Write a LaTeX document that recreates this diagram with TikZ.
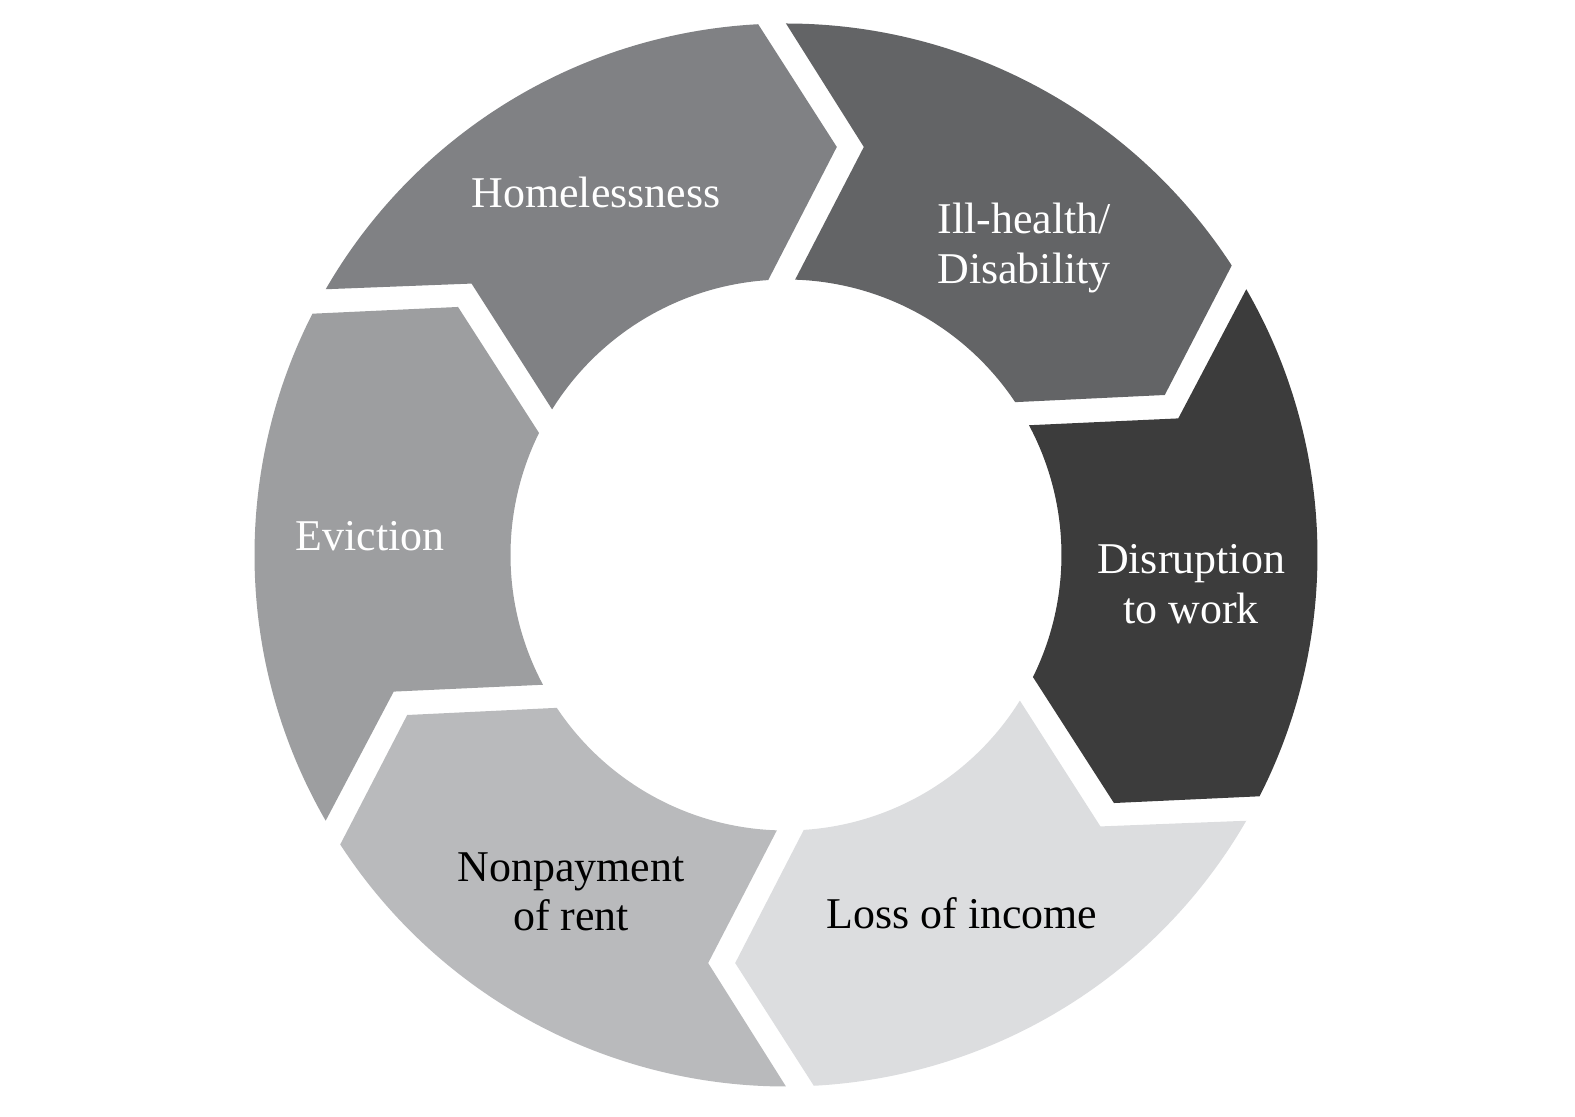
\documentclass[tikz,border=0pt]{standalone}
\usepackage{fontspec}
\setmainfont{Liberation Serif}
\usepackage{tikz}
\definecolor{homegray}{RGB}{128,129,132}
\definecolor{illgray}{RGB}{99,100,102}
\definecolor{disgray}{RGB}{60,60,60}
\definecolor{lossgray}{RGB}{220,221,223}
\definecolor{rentgray}{RGB}{185,186,188}
\definecolor{evictgray}{RGB}{157,158,160}
\tikzstyle{cycletext} = [font=\fontsize{12.5}{14.1}\selectfont, align=center, inner sep=0pt]

\begin{document}
\begin{tikzpicture}
	\useasboundingbox (-7.86,-5.62) rectangle (7.89,5.55);
	
	% Segments:
	% Each one starts at its notch (angle \a) and ends with a tip near \a-60
	\foreach \a/\col in {90/illgray,30/disgray,-30/lossgray,-90/rentgray,-150/evictgray,150/homegray}
	{
		\fill[\col] (\a:5.315) arc[start angle=\a, end angle=\a-57, radius=5.315]
			-- ({\a-67.1}:4.112) -- ({\a-56.3}:2.755)
			arc[start angle=\a-56.3, end angle=\a-1.9, radius=2.755]
			-- ({\a-10.8}:4.154) -- cycle;
	}
	
	% Labels:
	\node[cycletext, white] (homeless) at (-1.9,3.63) {Homelessness};
	\node[cycletext, white] (illhealth) at (2.38,3.07) {Ill-health/\\Disability};
	\node[cycletext, white] (disrupt) at (4.05,-0.29) {Disruption\\to work};
	\node[cycletext, black] (income) at (1.76,-3.58) {Loss of income};
	\node[cycletext, black] (rent) at (-2.15,-3.37) {Nonpayment\\of rent};
	\node[cycletext, white] (evict) at (-4.16,0.19) {Eviction};
	
\end{tikzpicture}
\end{document}
